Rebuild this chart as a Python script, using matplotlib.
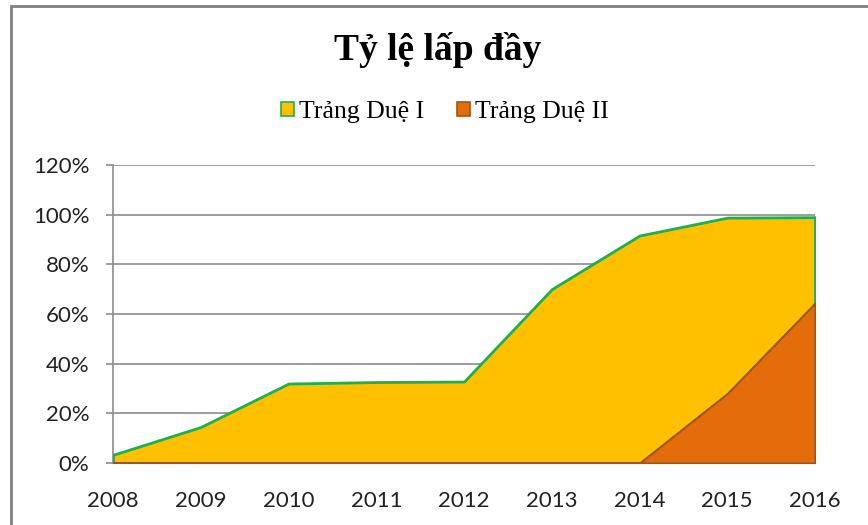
import numpy as np
import matplotlib
matplotlib.use("Agg")
import matplotlib.pyplot as plt
from matplotlib.patches import Rectangle
from matplotlib.ticker import FuncFormatter

years = [2008, 2009, 2010, 2011, 2012, 2013, 2014, 2015, 2016]
trang_due_1 = [3.3, 14.5, 32.0, 32.6, 32.8, 70.0, 91.6, 98.8, 99.0]
trang_due_2 = [0, 0, 0, 0, 0, 0, 0, 28.0, 64.4]
y_ticks = [0, 20, 40, 60, 80, 100, 120]

YELLOW = "#FFC000"
GREEN = "#1CB050"
ORANGE = "#E46C0A"
BROWN = "#A0531A"
GRID = "#8C8C8C"

W, H, dpi = 868, 525, 100
fig = plt.figure(figsize=(W / dpi, H / dpi), dpi=dpi, facecolor="white")
ax = fig.add_axes([113 / W, 1 - 463 / H, (815 - 113) / W, (463 - 165) / H])

ax.fill_between(years, trang_due_1, 0, facecolor=YELLOW, edgecolor=GREEN,
                linewidth=2, zorder=3, label="Trảng Duệ I")
ax.fill_between(years, trang_due_2, 0, facecolor=ORANGE, edgecolor=BROWN,
                linewidth=1.5, zorder=4, label="Trảng Duệ II")

ax.set_xlim(years[0], years[-1])
ax.set_ylim(0, 120)
ax.set_yticks(y_ticks)
ax.yaxis.set_major_formatter(FuncFormatter(lambda v, p: f"{v:.0f}%"))
ax.set_xticks(years)
ax.grid(axis="y", color=GRID, linewidth=1.2, zorder=1)
ax.set_axisbelow(True)

for s in ["top", "right"]:
    ax.spines[s].set_visible(False)
ax.spines["left"].set_color(GRID)
ax.spines["left"].set_linewidth(1.2)
ax.spines["bottom"].set_color(GRID)
ax.tick_params(axis="y", length=5, color=GRID, width=1.2, pad=12,
               labelsize=16, labelcolor="#222222")
ax.tick_params(axis="x", length=0, pad=20, labelsize=16, labelcolor="#222222")
for lab in ax.get_xticklabels() + ax.get_yticklabels():
    lab.set_fontfamily("Lato")

# title and legend
fig.text(438 / W, 1 - 50 / H, "Tỷ lệ lấp đầy", ha="center", va="center",
         fontsize=27, fontweight="bold", family="Liberation Serif")
leg = fig.legend(loc="center", bbox_to_anchor=(445 / W, 1 - 112 / H), ncol=2,
                 frameon=False, prop={"family": "Liberation Serif", "size": 18.5},
                 handlelength=0.5, handleheight=0.5, handletextpad=0.2,
                 columnspacing=1.3)
for h in leg.legend_handles:
    h.set_linewidth(1.2)

# outer chart frame
fig.patches.append(Rectangle((11 / W, -0.05), 1.1, 1 - 6 / H + 0.05,
                             transform=fig.transFigure, fill=False,
                             edgecolor="#7F7F7F", linewidth=2))

fig.savefig("out.png", dpi=dpi, facecolor="white")
